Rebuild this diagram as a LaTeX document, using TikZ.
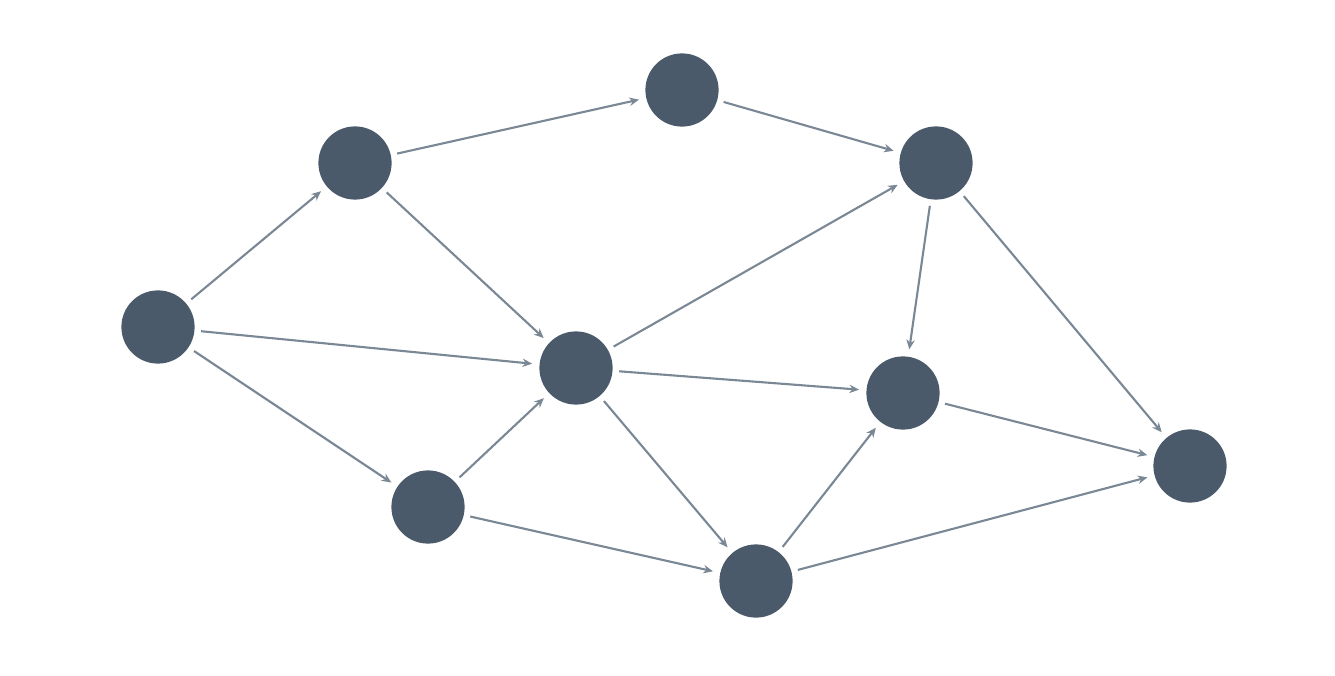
\documentclass[tikz,border=0pt]{standalone}
\usepackage{tikz}
\usetikzlibrary{arrows.meta}
\definecolor{nodefill}{HTML}{4A5A6A}
\definecolor{edgecol}{HTML}{7A8794}
\tikzset{
  dot/.style={circle, fill=nodefill, draw=none, minimum size=1.83cm, inner sep=0pt},
  link/.style={draw=edgecol, line width=1.5pt, shorten <=0.16cm, shorten >=0.18cm,
    -{Stealth[length=2.4mm, width=2.1mm]}}
}
\begin{document}
\begin{tikzpicture}[x=0.025cm, y=-0.025cm]
\useasboundingbox (0,0) rectangle (1335,676);
\node[dot] (A) at (158,327) {};
\node[dot] (B) at (355,163) {};
\node[dot] (C) at (682,90) {};
\node[dot] (D) at (936,163) {};
\node[dot] (E) at (576,368) {};
\node[dot] (F) at (428,507) {};
\node[dot] (G) at (903,393) {};
\node[dot] (H) at (756,581) {};
\node[dot] (I) at (1190,466) {};

\draw[link] (A) -- (B);
\draw[link] (A) -- (E);
\draw[link] (A) -- (F);
\draw[link] (B) -- (C);
\draw[link] (B) -- (E);
\draw[link] (C) -- (D);
\draw[link] (E) -- (D);
\draw[link] (E) -- (G);
\draw[link] (E) -- (H);
\draw[link] (F) -- (E);
\draw[link] (F) -- (H);
\draw[link] (D) -- (G);
\draw[link] (D) -- (I);
\draw[link] (H) -- (G);
\draw[link] (H) -- (I);
\draw[link] (G) -- (I);
\end{tikzpicture}
\end{document}
